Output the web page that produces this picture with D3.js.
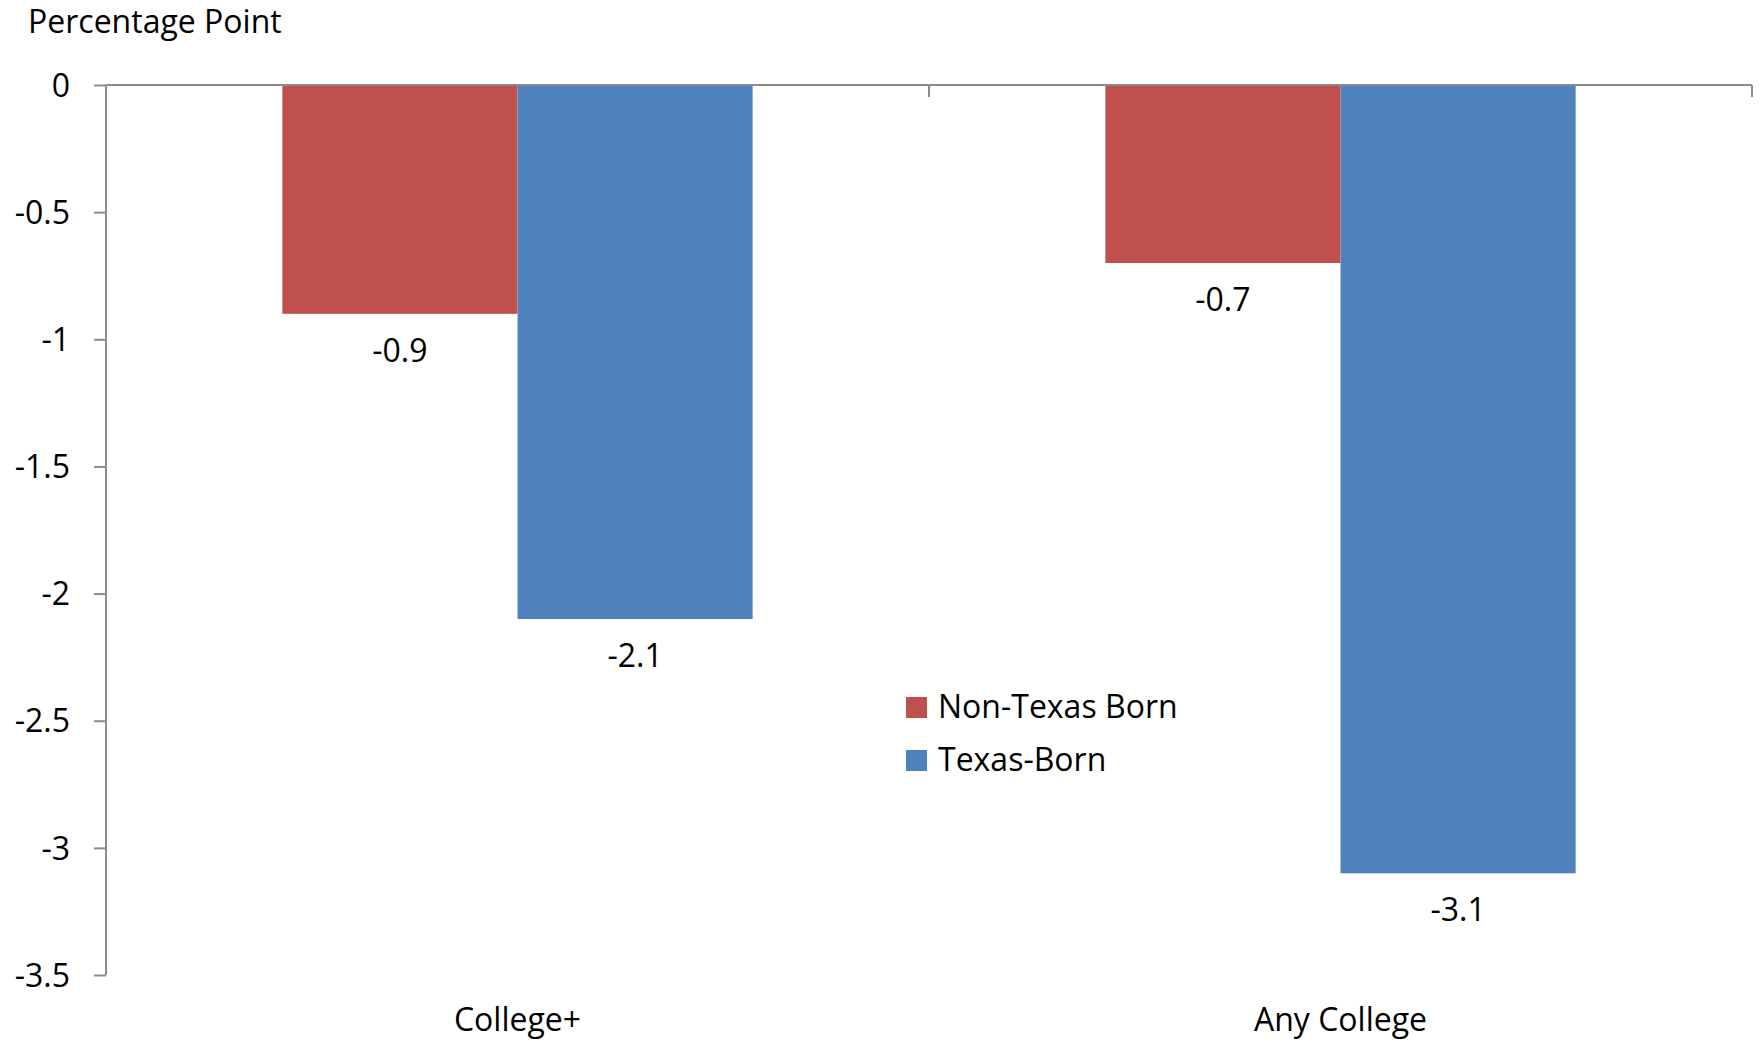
<!DOCTYPE html>
<html>
<head>
<meta charset="utf-8">
<script src="https://cdn.jsdelivr.net/npm/d3@7"></script>
<style>
  html, body { margin: 0; padding: 0; background: #fff; }
  svg { display: block; font-family: "Open Sans", sans-serif; }
</style>
</head>
<body>
<svg id="chart" width="1760" height="1042"></svg>
<script>
// Change in share, percentage points
const categories = ["College+", "Any College"];
const seriesNames = ["Non-Texas Born", "Texas-Born"];
const nonTexasBorn = [-0.9, -0.7];
const texasBorn = [-2.1, -3.1];
const yTicks = [0, -0.5, -1, -1.5, -2, -2.5, -3, -3.5];
const yTickLabels = ["0", "-0.5", "-1", "-1.5", "-2", "-2.5", "-3", "-3.5"];
const seriesColors = ["#C0504D", "#4F81BD"];

(function () {
  const values = [nonTexasBorn, texasBorn];
  const rows = categories.map((c, i) => ({
    category: c,
    items: seriesNames.map((s, j) => ({ series: s, value: values[j][i], color: seriesColors[j] }))
  }));

  const svg = d3.select("#chart");
  const plotLeft = 106, plotRight = 1752, plotTop = 85, plotBottom = 975;
  const axisColor = "#8c8c8c";
  const fontSize = 32;

  const y = d3.scaleLinear().domain([0, -3.5]).range([plotTop, plotBottom]);
  const x = d3.scaleBand().domain(categories).range([plotLeft, plotRight]).paddingInner(0).paddingOuter(0);
  const xs = d3.scaleBand().domain(seriesNames).range([0, x.bandwidth()]).paddingInner(0).paddingOuter(0.75);

  // Bars
  const groups = svg.append("g").selectAll("g").data(rows).join("g")
    .attr("transform", d => `translate(${x(d.category)},0)`);

  groups.selectAll("rect").data(d => d.items).join("rect")
    .attr("x", d => xs(d.series))
    .attr("width", xs.bandwidth())
    .attr("y", y(0))
    .attr("height", d => y(d.value) - y(0))
    .attr("fill", d => d.color);

  // Value labels below each bar end
  groups.selectAll("text.val").data(d => d.items).join("text")
    .attr("class", "val")
    .attr("x", d => xs(d.series) + xs.bandwidth() / 2)
    .attr("y", d => y(d.value) + 48)
    .attr("text-anchor", "middle")
    .attr("font-size", fontSize)
    .attr("fill", "#000")
    .text(d => d.value.toFixed(1));

  // Y axis
  const yAxis = d3.axisLeft(y).tickValues(yTicks).tickSize(12).tickPadding(24)
    .tickFormat((d, i) => yTickLabels[i]);
  const gy = svg.append("g").attr("transform", `translate(${plotLeft},0)`).call(yAxis);
  gy.select(".domain").attr("d", `M0,${plotTop}V${plotBottom}`);
  gy.selectAll("line, path").attr("stroke", axisColor).attr("stroke-width", 2);
  gy.selectAll("text").attr("font-size", fontSize).attr("font-family", "Open Sans, sans-serif")
    .attr("fill", "#000").attr("dy", "0.35em");

  // Category axis along the zero line
  const gx = svg.append("g").attr("transform", `translate(0,${y(0)})`);
  gx.append("path").attr("d", `M${plotLeft},0H${plotRight}`)
    .attr("stroke", axisColor).attr("stroke-width", 2).attr("fill", "none");
  const boundaries = categories.map(c => x(c) + x.bandwidth());
  gx.selectAll("line.bound").data(boundaries).join("line")
    .attr("class", "bound")
    .attr("x1", d => d).attr("x2", d => d)
    .attr("y1", 0).attr("y2", 12)
    .attr("stroke", axisColor).attr("stroke-width", 2);

  // Category labels at the bottom
  svg.append("g").selectAll("text").data(categories).join("text")
    .attr("x", d => x(d) + x.bandwidth() / 2)
    .attr("y", 1031)
    .attr("text-anchor", "middle")
    .attr("font-size", fontSize)
    .attr("fill", "#000")
    .text(d => d);

  // Axis title
  svg.append("text")
    .attr("x", 28).attr("y", 33)
    .attr("font-size", fontSize)
    .attr("fill", "#000")
    .text("Percentage Point");

  // Legend
  const legend = svg.append("g").attr("transform", "translate(906,697)");
  const li = legend.selectAll("g").data(seriesNames).join("g")
    .attr("transform", (d, i) => `translate(0,${i * 53})`);
  li.append("rect").attr("width", 21).attr("height", 21).attr("fill", (d, i) => seriesColors[i]);
  li.append("text").attr("x", 32).attr("y", 21).attr("font-size", fontSize).attr("fill", "#000").text(d => d);
})();
</script>
</body>
</html>
